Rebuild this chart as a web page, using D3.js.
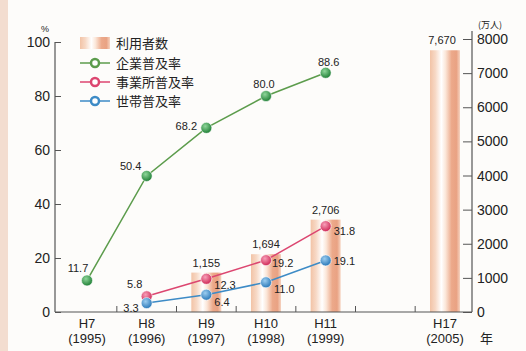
<!DOCTYPE html>
<html>
<head>
<meta charset="utf-8">
<script src="https://cdn.jsdelivr.net/npm/d3@7"></script>
<style>
  body { margin: 0; background: #fdfcfa; }
  svg { display: block; font-family: "Liberation Sans", Arial, sans-serif; }
  .jp { font-family: "Noto Sans CJK JP", sans-serif; }
</style>
</head>
<body>
<svg id="canvas" width="526" height="351"></svg>
<script>
// data
const years = ["H7", "H8", "H9", "H10", "H11", "gap", "H17"];
const yearSub = {H7: "(1995)", H8: "(1996)", H9: "(1997)", H10: "(1998)", H11: "(1999)", H17: "(2005)"};
const userYears = ["H9", "H10", "H11", "H17"];
const users = [1155, 1694, 2706, 7670];          // 利用者数 (万人)
const companyYears = ["H7", "H8", "H9", "H10", "H11"];
const company = [11.7, 50.4, 68.2, 80.0, 88.6];   // 企業普及率
const officeYears = ["H8", "H9", "H10", "H11"];
const office = [5.8, 12.3, 19.2, 31.8];           // 事業所普及率
const householdYears = ["H8", "H9", "H10", "H11"];
const household = [3.3, 6.4, 11.0, 19.1];        // 世帯普及率
const leftTicks = [0, 20, 40, 60, 80, 100];
const rightTicks = [0, 1000, 2000, 3000, 4000, 5000, 6000, 7000, 8000];

const svg = d3.select("#canvas");

// pinkish strip on the left edge of the scan
svg.append("rect").attr("x", 0).attr("y", 0).attr("width", 8).attr("height", 351).attr("fill", "#f3ddd0");

const base = 312;
const x = d3.scalePoint().domain(years).range([87, 445]);
const yL = d3.scaleLinear().domain([0, 100]).range([base, 42]);
const yR = d3.scaleLinear().domain([0, 8000]).range([base, 39]);

// gradients
const defs = svg.append("defs");
const bg = defs.append("linearGradient").attr("id", "barGrad");
[["0%", "#f2c3a6"], ["18%", "#f7d9c6"], ["38%", "#ffffff"], ["52%", "#fbe6d8"], ["72%", "#eca98a"], ["88%", "#e9a283"], ["100%", "#f6d3c0"]]
  .forEach(s => bg.append("stop").attr("offset", s[0]).attr("stop-color", s[1]));

function ball(id, light, dark) {
  const g = defs.append("radialGradient").attr("id", id).attr("cx", "40%").attr("cy", "35%").attr("r", "65%");
  g.append("stop").attr("offset", "0%").attr("stop-color", light);
  g.append("stop").attr("offset", "100%").attr("stop-color", dark);
}
ball("gBall", "#8fd69a", "#1f7f35");
ball("pBall", "#f7a0b8", "#cf2856");
ball("bBall", "#9ccdf0", "#2a78b8");

// bars
const barW = 30;
svg.selectAll(".bar").data(userYears.map((k, i) => ({k, v: users[i]})))
  .join("rect")
  .attr("x", d => x(d.k) - barW / 2)
  .attr("y", d => yR(d.v))
  .attr("width", barW)
  .attr("height", d => base - yR(d.v))
  .attr("fill", "url(#barGrad)");

svg.selectAll(".barlab").data(userYears.map((k, i) => ({k, v: users[i]})))
  .join("text")
  .attr("x", d => x(d.k) + (d.k === "H17" ? -3 : 0))
  .attr("y", d => yR(d.v) - 6)
  .attr("text-anchor", "middle")
  .attr("font-size", 11)
  .attr("fill", "#222")
  .text(d => d3.format(",")(d.v));

// axes
const axL = svg.append("g").attr("transform", "translate(55,0)")
  .call(d3.axisRight(yL).tickValues(leftTicks).tickSize(6).tickFormat(""));
axL.select(".domain").remove();
axL.selectAll("line").attr("stroke", "#555");
svg.append("line").attr("x1", 55).attr("x2", 55).attr("y1", yL(100)).attr("y2", base).attr("stroke", "#555").attr("stroke-width", 1.2);
svg.selectAll(".ltick").data(leftTicks).join("text")
  .attr("x", 50).attr("y", d => yL(d) + 5)
  .attr("text-anchor", "end").attr("font-size", 14).attr("fill", "#222")
  .text(d => d);
svg.append("text").attr("x", 45).attr("y", 32).attr("text-anchor", "middle").attr("font-size", 9).attr("fill", "#222").text("%");

const axR = svg.append("g").attr("transform", "translate(472,0)")
  .call(d3.axisLeft(yR).tickValues(rightTicks).tickSize(9).tickFormat(""));
axR.select(".domain").remove();
axR.selectAll("line").attr("stroke", "#555");
svg.append("line").attr("x1", 472).attr("x2", 472).attr("y1", yR(8000) - 8).attr("y2", base).attr("stroke", "#555").attr("stroke-width", 1.2);
svg.selectAll(".rtick").data(rightTicks).join("text")
  .attr("x", 477).attr("y", d => yR(d) + 5)
  .attr("font-size", 14).attr("fill", "#222")
  .text(d => d);
svg.append("text").attr("class", "jp").attr("x", 490).attr("y", 28).attr("text-anchor", "middle").attr("font-size", 9).attr("fill", "#222").text("(万人)");

// baseline and category ticks
svg.append("line").attr("x1", 55).attr("x2", 472).attr("y1", base).attr("y2", base).attr("stroke", "#555").attr("stroke-width", 1.2);
const step = x.step();
svg.selectAll(".xt").data(years.slice(0, -1)).join("line")
  .attr("x1", d => x(d) + step / 2).attr("x2", d => x(d) + step / 2)
  .attr("y1", base).attr("y2", base - 6)
  .attr("stroke", "#555");

const xl = svg.selectAll(".xl").data(years.filter(d => d !== "gap")).join("text")
  .attr("text-anchor", "middle").attr("font-size", 13).attr("fill", "#222");
xl.append("tspan").attr("x", d => x(d)).attr("y", 328).text(d => d);
xl.append("tspan").attr("x", d => x(d)).attr("y", 343).text(d => yearSub[d]);
svg.append("text").attr("class", "jp").attr("x", 480).attr("y", 343).attr("font-size", 13).attr("fill", "#222").text("年");

// lines
const line = d3.line().x(d => x(d.k)).y(d => yL(d.v));
const series = [
  {name: "企業普及率", keys: companyYears, vals: company, stroke: "#5c9c4c", fill: "url(#gBall)",
   off: [[-9, -8], [-16, -6], [-20, 2], [-2, -8], [3, -7]], anchor: ["middle", "middle", "middle", "middle", "middle"]},
  {name: "事業所普及率", keys: officeYears, vals: office, stroke: "#dc4670", fill: "url(#pBall)",
   off: [[-12, -8], [8, 10], [6, 7], [8, 9]], anchor: ["middle", "start", "start", "start"]},
  {name: "世帯普及率", keys: householdYears, vals: household, stroke: "#3d8bc6", fill: "url(#bBall)",
   off: [[-8, 9], [8, 11], [8, 11], [8, 5]], anchor: ["end", "start", "start", "start"]}
];

series.forEach(s => {
  const pts = s.keys.map((k, i) => ({k, v: s.vals[i]}));
  svg.append("path").datum(pts).attr("d", line)
    .attr("fill", "none").attr("stroke", s.stroke).attr("stroke-width", 1.5);
  svg.selectAll(null).data(pts).join("circle")
    .attr("cx", d => x(d.k)).attr("cy", d => yL(d.v)).attr("r", 5.5)
    .attr("fill", s.fill).attr("stroke", "#fff").attr("stroke-width", 0.6);
  svg.selectAll(null).data(pts).join("text")
    .attr("x", (d, i) => x(d.k) + s.off[i][0])
    .attr("y", (d, i) => yL(d.v) + s.off[i][1])
    .attr("text-anchor", (d, i) => s.anchor[i])
    .attr("font-size", 11).attr("fill", "#222")
    .text(d => d3.format(".1f")(d.v));
});

// legend
const lg = svg.append("g").attr("transform", "translate(80,0)");
lg.append("rect").attr("x", 0).attr("y", 37).attr("width", 30).attr("height", 12).attr("fill", "url(#barGrad)");
lg.append("text").attr("class", "jp").attr("x", 36).attr("y", 48).attr("font-size", 13).attr("fill", "#222").text("利用者数");
series.forEach((s, i) => {
  const yy = 63 + i * 19;
  lg.append("line").attr("x1", 0).attr("x2", 30).attr("y1", yy).attr("y2", yy).attr("stroke", s.stroke).attr("stroke-width", 1.5);
  lg.append("circle").attr("cx", 15).attr("cy", yy).attr("r", 4).attr("fill", "#fff").attr("stroke", s.stroke).attr("stroke-width", 2.5);
  lg.append("text").attr("class", "jp").attr("x", 36).attr("y", yy + 5).attr("font-size", 13).attr("fill", "#222").text(s.name);
});
</script>
</body>
</html>
